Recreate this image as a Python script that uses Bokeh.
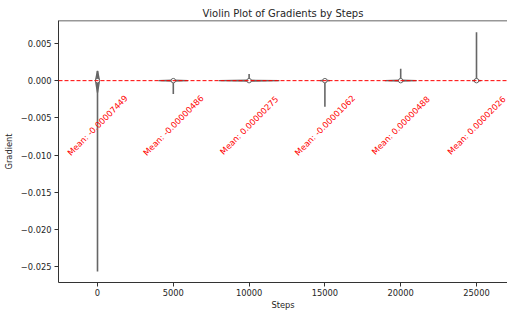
from bokeh.plotting import figure
from bokeh.models import FixedTicker, CustomJSTickFormatter, Span, ColumnDataSource, Range1d
from bokeh.core.properties import value
from bokeh.embed import file_html
from bokeh.resources import INLINE
import math

# ---- data ----
steps = [0, 5000, 10000, 15000, 20000, 25000]
grad_min = [-0.0256, -0.0018, 0.0, -0.0035, 0.0, 0.0]
grad_max = [0.0013, 0.0, 0.0009, 0.0, 0.0016, 0.0065]
grad_median = [0.0, 0.0, 0.0, 0.0, 0.0, 0.0]
body_low = [-0.0016, -0.00005, -0.00005, -0.00005, -0.00005, -0.00005]
body_high = [0.0013, 0.00005, 0.00005, 0.00005, 0.00005, 0.00005]
body_halfwidth = [130, 975, 2000, 330, 1050, 290]
means = [-0.00007449, -0.00000486, 0.00000275, -0.00001062, 0.00000488, 0.00002026]
mean_labels = ["Mean: %.8f" % m for m in means]
x_ticks = [0, 5000, 10000, 15000, 20000, 25000]
y_ticks = [-0.025, -0.020, -0.015, -0.010, -0.005, 0.0, 0.005]

FONT = "DejaVu Sans"
TXT = "#262626"
GRAY = "#666666"

p = figure(width=507, height=312, output_backend="svg", toolbar_location=None,
           x_range=Range1d(-2573, 27045), y_range=Range1d(-0.02708, 0.00807),
           title="Violin Plot of Gradients by Steps",
           min_border_left=50, min_border_right=0, min_border_top=20, min_border_bottom=26)
p.background_fill_color = "white"
p.border_fill_color = "white"
p.outline_line_color = None
p.grid.visible = False

p.title.align = "center"
p.title.text_font = FONT
p.title.text_font_size = "10px"
p.title.text_font_style = "normal"
p.title.text_color = TXT
p.title.standoff = 3

for ax in (p.xaxis[0], p.yaxis[0]):
    ax.axis_line_color = "#333333"
    ax.axis_line_width = 1
    ax.major_tick_line_color = "#333333"
    ax.major_tick_out = 4
    ax.major_tick_in = 0
    ax.minor_tick_line_color = None
    ax.major_label_text_font = FONT
    ax.major_label_text_font_size = "8.3px"
    ax.major_label_text_color = TXT
    ax.axis_label_text_font = FONT
    ax.axis_label_text_font_size = "8.3px"
    ax.axis_label_text_font_style = "normal"
    ax.axis_label_text_color = TXT
    ax.major_label_standoff = 3

p.xaxis.axis_label = "Steps"
p.xaxis.major_label_standoff = 2
p.xaxis.axis_label_standoff = 1
p.xaxis.ticker = FixedTicker(ticks=x_ticks)
p.yaxis.axis_label = "Gradient"
p.yaxis.axis_label_standoff = 4
p.yaxis.ticker = FixedTicker(ticks=y_ticks)
p.yaxis.formatter = CustomJSTickFormatter(code="""
    const v = Math.round(tick * 1000) / 1000;
    const s = Math.abs(v).toFixed(3);
    return (v < 0 ? '\u2212' : '') + s;
""")

# top spine
p.add_layout(Span(location=0.00807, dimension="width", line_color="#333333", line_width=1.5))

# violin bodies (thin shapes built from the data)
xs = [[s - w, s, s + w, s] for s, w in zip(steps, body_halfwidth)]
ys = [[m, hi, m, lo] for m, lo, hi in zip(grad_median, body_low, body_high)]
p.patches(xs, ys, fill_color="#8c8c8c", line_color=GRAY, line_width=1.4)

# whiskers
p.segment(x0=steps, y0=grad_min, x1=steps, y1=grad_max, line_color=GRAY, line_width=1.6)

# median markers
p.scatter(x=steps, y=grad_median, size=4.5, fill_color="white", line_color=GRAY, line_width=1)

# zero reference line
p.add_layout(Span(location=0, dimension="width", line_color="red", line_dash="4 2", line_width=1))

# mean labels
label_y = -0.006
src = ColumnDataSource(dict(x=steps, y=[label_y] * len(steps), text=mean_labels))
p.text(x="x", y="y", text="text", source=src, angle=math.pi / 4,
       text_align="center", text_baseline="middle", text_color="red",
       text_font=value(FONT), text_font_size="8.3px")

open("out.html", "w").write(file_html(p, INLINE))
